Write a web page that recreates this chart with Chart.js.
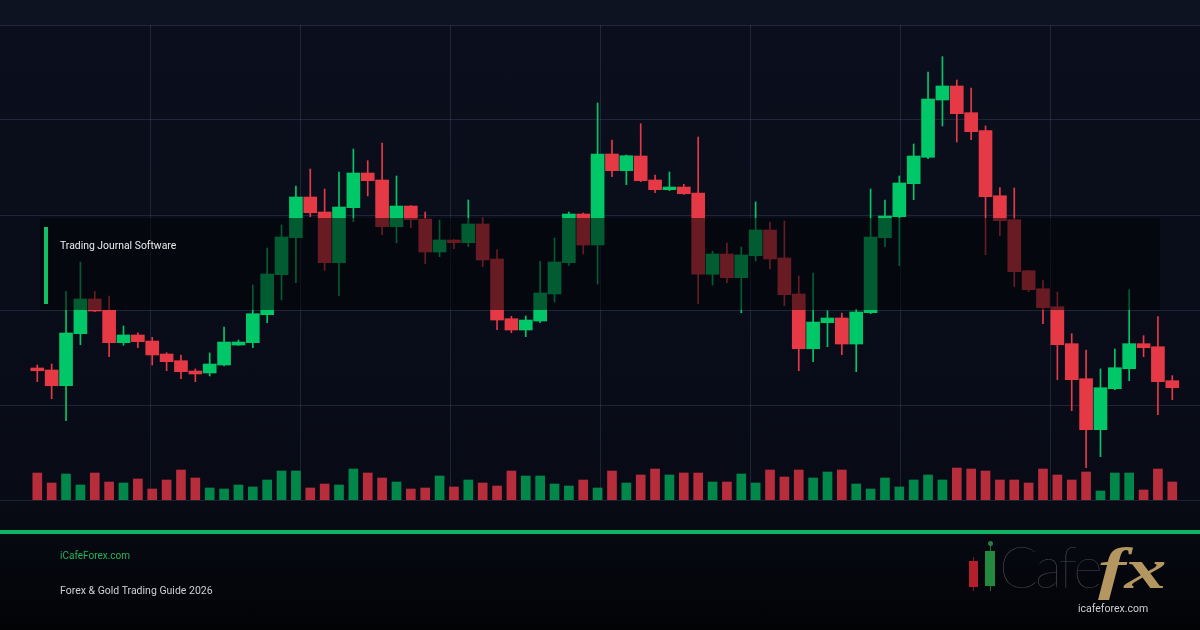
<!DOCTYPE html>
<html>
<head>
<meta charset="utf-8">
<script src="https://cdn.jsdelivr.net/npm/chart.js@4.4.1/dist/chart.umd.min.js"></script>
<style>
html,body{margin:0;padding:0;width:1200px;height:630px;overflow:hidden;background:#0e1321;}
#stage{position:relative;width:1200px;height:630px;}
#bgTop{position:absolute;left:0;top:0;width:1200px;height:25px;background:#0e1321;}
#bgChart{position:absolute;left:0;top:25px;width:1200px;height:475px;background:linear-gradient(#0b0f1d,#080b16);}
#bgFoot{position:absolute;left:0;top:500px;width:1200px;height:130px;background:linear-gradient(#080b14 0%,#060810 40%,#020305 100%);}
#chart{position:absolute;left:0;top:0;}
.band{position:absolute;left:40px;top:218px;width:1120px;height:92px;background:rgba(2,3,7,0.55);}
.accent{position:absolute;left:44px;top:227px;width:4px;height:77px;background:#12c165;}
.bandText{position:absolute;left:60px;top:239px;font:10.4px Roboto,"Liberation Sans",sans-serif;color:#ececec;white-space:nowrap;}
.footLine{position:absolute;left:0;top:530px;width:1200px;height:4px;background:#10b466;}
.site{position:absolute;left:60px;top:550px;font:10px Roboto,"Liberation Sans",sans-serif;color:#22b45c;white-space:nowrap;}
.guide{position:absolute;left:60px;top:584px;font:10.5px Roboto,"Liberation Sans",sans-serif;color:#cfd0d4;white-space:nowrap;}
.logo{position:absolute;left:960px;top:536px;width:230px;height:90px;}
.wick{position:absolute;width:1px;}
.cndl{position:absolute;}
.cafe{position:absolute;left:39px;top:-4px;font:200 57px Lato,"DejaVu Sans",sans-serif;color:#4a4a4a;letter-spacing:-3px;white-space:nowrap;}
.fx{position:absolute;left:138px;top:-1px;font:bold italic 58px "Liberation Serif","DejaVu Serif",serif;color:#b49660;white-space:nowrap;letter-spacing:-1px;transform:scaleX(1.45);transform-origin:left top;}
.logoSite{position:absolute;left:118px;top:66px;font:10.5px Roboto,"Liberation Sans",sans-serif;color:#cfcfcf;white-space:nowrap;}
</style>
</head>
<body>
<div id="stage">
  <div id="bgTop"></div>
  <div id="bgChart"></div>
  <div id="bgFoot"></div>
  <canvas id="chart" width="1200" height="630"></canvas>
  <div class="band"></div>
  <div class="accent"></div>
  <div class="bandText">Trading Journal Software</div>
  <div class="footLine"></div>
  <div class="site">iCafeForex.com</div>
  <div class="guide">Forex &amp; Gold Trading Guide 2026</div>
  <div class="logo">
    <div class="wick" style="left:13px;top:21px;height:34px;background:#7d1a20;"></div>
    <div class="cndl" style="left:9px;top:25px;width:9px;height:26px;background:#b3202b;"></div>
    <div class="wick" style="left:30px;top:6px;height:49px;background:#1f6d37;"></div>
    <div class="cndl" style="left:28px;top:5px;width:5px;height:5px;border-radius:50%;background:#2a7a42;"></div>
    <div class="cndl" style="left:25px;top:15px;width:10px;height:35px;background:#23893f;"></div>
    <div class="cafe">Cafe</div>
    <div class="fx">fx</div>
    <div class="logoSite">icafeforex.com</div>
  </div>
</div>
<script>
// ---- data (price units; volume units) ----
const opens  = [27.79,27.37,24.06,35.01,42.32,39.94,33.12,34.74,33.47,30.74,29.33,27.16,26.74,28.42,32.63,33.12,39.01,47.43,55.22,63.79,
                60.63,49.96,61.54,68.84,67.37,57.54,61.89,59.16,52.21,54.74,54.17,58.11,50.74,38.17,35.79,37.68,43.37,49.96,60.21,53.68,
                72.84,69.33,72.42,67.37,65.33,65.89,64.63,47.52,51.79,46.80,51.43,56.84,50.95,43.37,31.85,37.33,38.32,32.84,39.43,55.22,
                59.64,66.59,72.15,84.21,87.16,81.54,77.75,64.06,59.01,48.27,44.48,40.69,32.91,25.54,14.80,23.43,27.64,32.91,32.27,25.12];
const highs  = [28.42,28.63,43.94,50.11,43.94,42.95,36.63,35.22,34.25,31.01,30.53,27.58,30.95,36.42,33.68,45.26,53.05,57.89,66.11,69.68,
                65.47,69.05,73.89,71.43,75.16,68.21,62.00,60.63,58.95,54.84,63.16,59.37,52.69,38.67,38.74,50.25,55.16,60.63,60.42,83.58,
                75.79,72.63,79.22,68.42,69.05,66.46,76.42,52.36,54.11,53.26,62.74,58.53,58.74,47.16,47.79,39.85,39.37,40.21,65.47,63.16,
                68.21,74.95,90.11,93.33,88.42,86.74,78.74,65.75,65.68,48.32,46.17,43.79,35.01,31.58,27.58,31.79,44.27,34.59,38.59,26.17];
const lows   = [24.91,21.33,16.69,32.69,39.64,30.17,32.57,32.06,28.42,27.22,25.54,24.91,26.11,28.21,32.53,32.06,37.33,42.11,45.75,59.64,
                48.36,43.01,58.59,64.00,55.79,54.11,57.33,49.75,51.22,52.91,53.33,49.12,35.85,35.22,34.38,37.33,41.68,49.41,51.79,45.47,
                68.06,66.38,67.01,64.69,65.12,64.32,41.33,45.26,45.75,39.43,50.32,48.63,40.91,27.22,29.12,32.27,30.59,27.01,39.22,53.33,
                49.33,63.22,71.85,78.74,75.37,75.85,51.64,55.64,44.91,43.85,37.12,25.33,18.80,6.80,9.12,23.22,25.12,30.17,17.96,21.12];
const closes = [27.22,24.06,35.16,42.32,39.79,33.12,34.74,33.33,30.53,29.12,27.01,26.53,28.63,33.26,33.26,39.22,47.58,55.37,63.79,60.48,
                49.96,61.68,68.84,67.22,57.54,61.89,59.01,52.21,54.74,54.17,58.11,50.53,37.89,35.79,37.89,43.58,50.11,60.21,53.68,72.84,
                69.33,72.48,67.22,65.33,65.89,64.48,47.52,51.79,46.80,51.58,56.84,50.74,43.22,31.85,37.47,38.32,32.84,39.58,55.37,59.79,
                66.74,72.42,84.42,87.16,81.33,77.54,63.85,58.80,48.06,44.27,40.48,32.69,25.33,14.80,23.64,27.85,32.91,32.06,24.91,23.64];
const volumes = [270,170,260,150,270,180,170,210,110,200,300,220,120,110,150,130,200,290,290,120,
                 160,150,310,270,220,180,110,120,240,130,200,170,140,290,240,240,160,140,200,120,
                 290,170,250,310,250,270,270,180,180,260,170,300,230,300,220,280,300,160,110,220,
                 130,200,250,200,320,310,290,200,200,170,310,250,200,280,90,270,270,100,310,180];

const UP = '#00c767', DOWN = '#e63946';
const UPV = 'rgba(0,178,92,0.75)', DOWNV = 'rgba(214,52,66,0.85)';
const GRID = 'rgba(110,125,170,0.22)';

const idx = opens.map((_, i) => i);
const isUp = i => closes[i] >= opens[i];
const candleColors = idx.map(i => isUp(i) ? UP : DOWN);
const volColors = idx.map(i => isUp(i) ? UPV : DOWNV);

// index scale: first candle centre 37.3px, spacing 14.367px across a 1200px-wide plot
const STEP = 14.367, FIRST = 37.3;
const X_MIN = -FIRST / STEP, X_MAX = X_MIN + 1200 / STEP;

new Chart(document.getElementById('chart').getContext('2d'), {
  type: 'bar',
  data: {
    datasets: [
      { label: 'body', data: idx.map(i => ({ x: i, y: [opens[i], closes[i]] })), backgroundColor: candleColors,
        barThickness: 13, maxBarThickness: 13, grouped: false, xAxisID: 'x', yAxisID: 'y', borderWidth: 0, borderSkipped: false },
      { label: 'wick', data: idx.map(i => ({ x: i, y: [lows[i], highs[i]] })), backgroundColor: candleColors,
        barThickness: 1, maxBarThickness: 1, grouped: false, xAxisID: 'x', yAxisID: 'y', borderWidth: 0 },
      { label: 'volume', data: idx.map(i => ({ x: i, y: volumes[i] })), backgroundColor: volColors,
        barThickness: 9, maxBarThickness: 9, grouped: false, xAxisID: 'x', yAxisID: 'yv', borderWidth: 0 }
    ]
  },
  options: {
    responsive: false, animation: false, devicePixelRatio: 1,
    layout: { padding: { top: 25, bottom: 130, left: 0, right: 0 } },
    plugins: { legend: { display: false }, tooltip: { enabled: false } },
    scales: {
      x: { type: 'linear', min: X_MIN, max: X_MAX, display: false, offset: false, grid: { offset: false } },
      xg: { type: 'linear', position: 'bottom', min: 0, max: 1200, offset: false,
            ticks: { display: false, stepSize: 150 },
            grid: { offset: false, color: c => (c.tick && (c.tick.value === 0 || c.tick.value === 1200)) ? 'rgba(0,0,0,0)' : GRID, drawTicks: false, lineWidth: 1 },
            border: { display: false } },
      y: { type: 'linear', position: 'left', min: 0, max: 100, ticks: { display: false, stepSize: 20 },
           grid: { color: GRID, drawTicks: false, lineWidth: 1 }, border: { display: false } },
      yv: { type: 'linear', position: 'right', min: 0, max: 4750, display: false }
    }
  }
});
</script>
</body>
</html>
